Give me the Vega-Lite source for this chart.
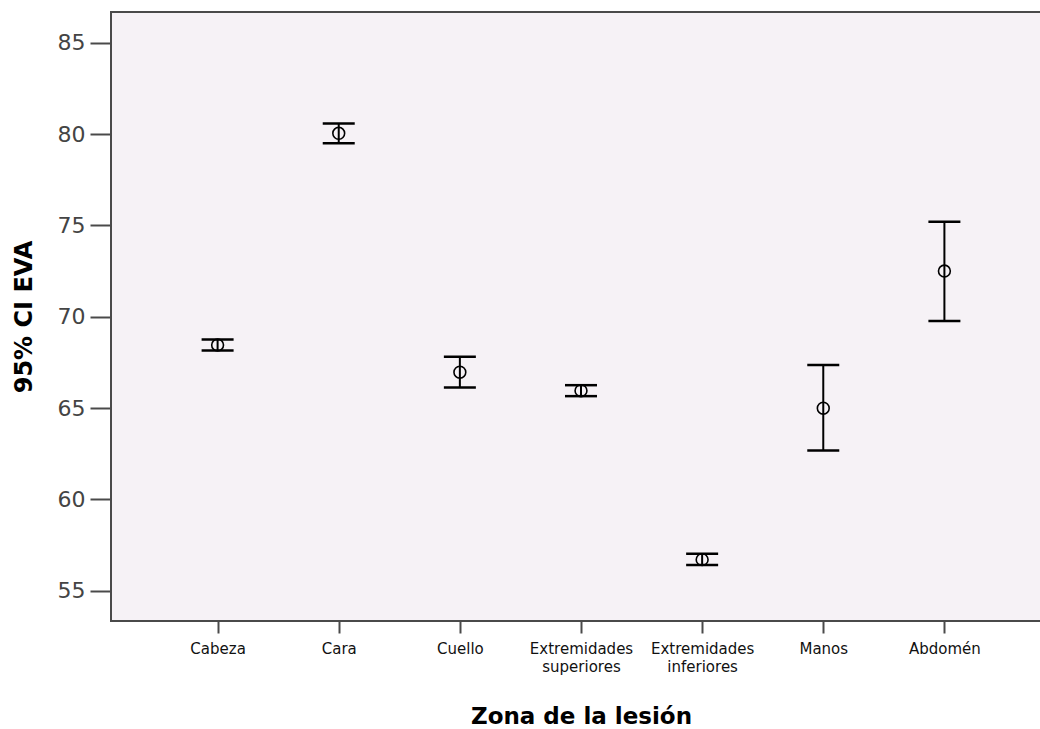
{
  "$schema": "https://vega.github.io/schema/vega-lite/v6.json",
  "width": 940,
  "height": 609,
  "autosize": {"type": "none"},
  "padding": {"left": 111, "top": 12, "right": 0, "bottom": 108},
  "background": "white",
  "config": {
    "view": {"fill": "#F6F2F6", "stroke": "#4a4a4a", "strokeWidth": 2},
    "font": "DejaVu Sans"
  },
  "data": {
    "values": [
      {"zona": "Cabeza", "media": 68.45, "lo": 68.15, "hi": 68.75},
      {"zona": "Cara", "media": 80.04, "lo": 79.5, "hi": 80.58},
      {"zona": "Cuello", "media": 66.96, "lo": 66.12, "hi": 67.8},
      {"zona": "Extremidades superiores", "media": 65.95, "lo": 65.65, "hi": 66.25},
      {"zona": "Extremidades inferiores", "media": 56.7, "lo": 56.4, "hi": 57.02},
      {"zona": "Manos", "media": 64.99, "lo": 62.67, "hi": 67.35},
      {"zona": "Abdomén", "media": 72.5, "lo": 69.77, "hi": 75.2}
    ]
  },
  "encoding": {
    "x": {
      "field": "zona",
      "type": "nominal",
      "sort": null,
      "scale": {"type": "point", "padding": 0.88},
      "axis": {
        "title": "Zona de la lesión",
        "titleFont": "DejaVu Sans",
        "titleFontSize": 23,
        "titleFontWeight": "bold",
        "titleColor": "#000000",
        "titlePadding": 31,
        "labelAngle": 0,
        "labelFont": "DejaVu Sans",
        "labelFontSize": 15,
        "labelColor": "#111111",
        "labelLineHeight": 18,
        "labelPadding": 8,
        "labelExpr": "split(datum.label, ' ')",
        "tickSize": 12,
        "tickColor": "#4a4a4a",
        "tickWidth": 2,
        "domain": false,
        "grid": false
      }
    },
    "y": {
      "type": "quantitative",
      "scale": {"domain": [53.34, 86.68], "nice": false, "zero": false}
    }
  },
  "layer": [
    {
      "mark": {"type": "rule", "color": "#000000", "strokeWidth": 2},
      "encoding": {
        "y": {
          "field": "lo",
          "type": "quantitative",
          "scale": {"domain": [53.34, 86.68], "nice": false, "zero": false},
          "axis": {
            "title": "95% CI EVA",
            "titleFont": "DejaVu Sans",
            "titleFontSize": 24,
            "titleFontWeight": "bold",
            "titleColor": "#000000",
            "titlePadding": 21,
            "values": [55, 60, 65, 70, 75, 80, 85],
            "labelFont": "DejaVu Sans",
            "labelFontSize": 22,
            "labelColor": "#444444",
            "labelPadding": 5,
            "tickSize": 21,
            "tickColor": "#4a4a4a",
            "tickWidth": 2,
            "domain": false,
            "grid": false
          }
        },
        "y2": {"field": "hi"}
      }
    },
    {
      "mark": {"type": "tick", "color": "#000000", "thickness": 2.5, "size": 32, "opacity": 1},
      "encoding": {"y": {"field": "lo", "type": "quantitative"}}
    },
    {
      "mark": {"type": "tick", "color": "#000000", "thickness": 2.5, "size": 32, "opacity": 1},
      "encoding": {"y": {"field": "hi", "type": "quantitative"}}
    },
    {
      "mark": {"type": "point", "shape": "circle", "filled": false, "color": "#000000", "strokeWidth": 1.6, "size": 140, "opacity": 1},
      "encoding": {"y": {"field": "media", "type": "quantitative"}}
    }
  ]
}
